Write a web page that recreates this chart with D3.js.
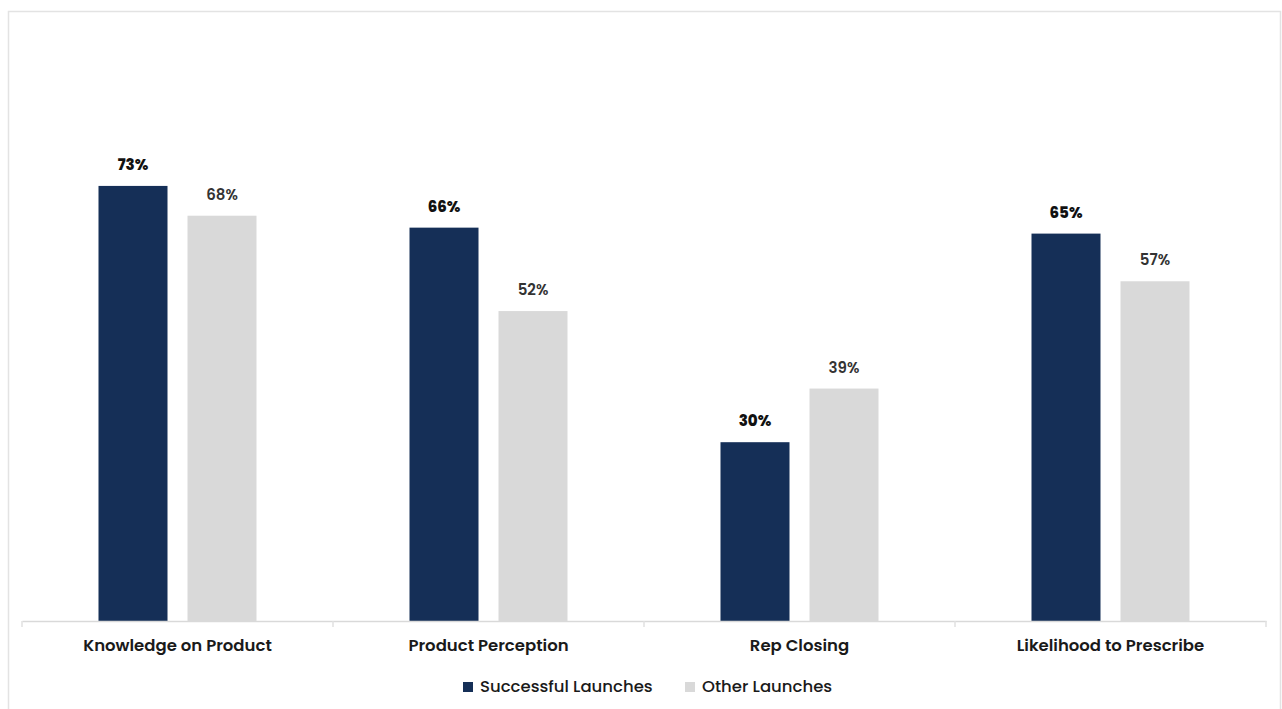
<!DOCTYPE html>
<html>
<head>
<meta charset="utf-8">
<script src="https://cdn.jsdelivr.net/npm/d3@7.9.0/dist/d3.min.js"></script>
<style>
  body { margin: 0; background: #fff; }
  svg { display: block; font-family: Poppins, Inter, "Open Sans", sans-serif; }
</style>
</head>
<body>
<svg id="chart" width="1282" height="709"></svg>
<script>
const categories = ["Knowledge on Product", "Product Perception", "Rep Closing", "Likelihood to Prescribe"];
const seriesNames = ["Successful Launches", "Other Launches"];
const successful = [73, 66, 30, 65];
const other = [68, 52, 39, 57];
const colors = ["#152f57", "#d9d9d9"];

const svg = d3.select("#chart");
const margin = { top: 25, right: 16, bottom: 88, left: 22 };
const width = +svg.attr("width") - margin.left - margin.right;
const height = +svg.attr("height") - margin.top - margin.bottom;

// outer frame
svg.append("rect")
  .attr("x", 8.5).attr("y", 11.5)
  .attr("width", 1272).attr("height", 720)
  .attr("fill", "none")
  .attr("stroke", "#e3e3e3")
  .attr("stroke-width", 1.5);

const g = svg.append("g").attr("transform", `translate(${margin.left},${margin.top})`);

const data = categories.map((c, i) => ({ cat: c, values: [successful[i], other[i]] }));

const x0 = d3.scaleBand().domain(categories).range([0, width]);
const groupW = 158;
const x1 = d3.scaleBand().domain(d3.range(2)).range([0, groupW]).paddingInner(20 / 89);
const y = d3.scaleLinear().domain([0, 100]).range([height, 0]);

// bars
const groups = g.selectAll(".grp").data(data).join("g")
  .attr("transform", d => `translate(${x0(d.cat) + x0.bandwidth() / 2 - groupW / 2},0)`);

groups.selectAll("rect").data(d => d.values).join("rect")
  .attr("x", (d, i) => x1(i))
  .attr("y", d => y(d))
  .attr("width", x1.bandwidth())
  .attr("height", d => height - y(d))
  .attr("fill", (d, i) => colors[i]);

groups.selectAll("text").data(d => d.values).join("text")
  .attr("x", (d, i) => x1(i) + x1.bandwidth() / 2)
  .attr("y", d => y(d) - 16)
  .attr("text-anchor", "middle")
  .attr("font-size", 15)
  .attr("font-weight", (d, i) => i === 0 ? 800 : 600)
  .attr("fill", (d, i) => i === 0 ? "#111" : "#333")
  .text(d => d + "%");

// x axis
const xAxis = d3.axisBottom(x0).tickValues([]).tickSizeOuter(0);
const axisG = g.append("g").attr("transform", `translate(0,${height})`).call(xAxis);
axisG.select(".domain").attr("stroke", "#d9d9d9").attr("stroke-width", 1.5);

// category boundary ticks
g.append("g").selectAll("line").data(d3.range(categories.length + 1)).join("line")
  .attr("x1", i => i * x0.step()).attr("x2", i => i * x0.step())
  .attr("y1", height).attr("y2", height + 6)
  .attr("stroke", "#e0e0e0").attr("stroke-width", 1.5);

g.append("g").selectAll("text").data(categories).join("text")
  .attr("x", d => x0(d) + x0.bandwidth() / 2)
  .attr("y", height + 30)
  .attr("text-anchor", "middle")
  .attr("font-size", 16.5)
  .attr("font-weight", 600)
  .attr("fill", "#1a1a1a")
  .text(d => d);

// legend
const legend = svg.append("g").attr("transform", "translate(463,682)");
const legendX = [0, 222];
seriesNames.forEach((s, i) => {
  legend.append("rect").attr("x", legendX[i]).attr("y", 0)
    .attr("width", 10).attr("height", 10).attr("fill", colors[i]);
  legend.append("text").attr("x", legendX[i] + 17).attr("y", 9.5)
    .attr("font-size", 16.5).attr("font-weight", 500).attr("fill", "#1a1a1a")
    .text(s);
});
</script>
</body>
</html>
